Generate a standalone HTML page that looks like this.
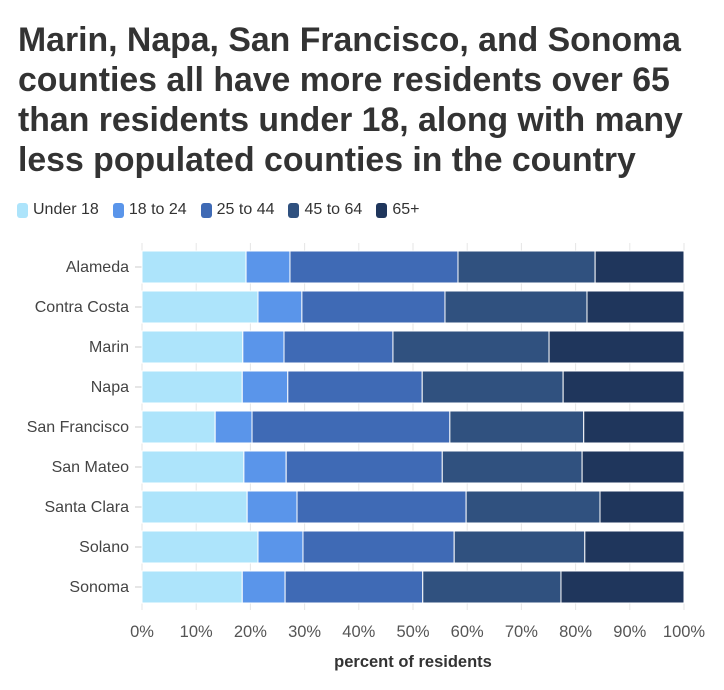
<!DOCTYPE html>
<html><head><meta charset="utf-8"><style>
body{margin:0;background:#fff;width:724px;height:690px;overflow:hidden;font-family:"Liberation Sans",sans-serif;}
h1{position:absolute;left:18px;top:20px;margin:0;font-size:33.8px;line-height:40px;font-weight:bold;color:#333;width:710px;letter-spacing:0px}
#legend{position:absolute;left:17px;top:201px;font-size:16px;color:#333;display:flex;gap:0}
.li{display:flex;align-items:center;margin-right:14px}
.sw{width:11px;height:15px;border-radius:3px;margin-right:5px}
</style></head><body>
<h1>Marin, Napa, San Francisco, and Sonoma counties all have more residents over 65 than residents under 18, along with many less populated counties in the country</h1>
<div id="legend"></div>
<svg id="chart" width="724" height="690" style="position:absolute;left:0;top:0"></svg>
<script>
const categories=["Alameda","Contra Costa","Marin","Napa","San Francisco","San Mateo","Santa Clara","Solano","Sonoma"];
const seriesNames=["Under 18","18 to 24","25 to 44","45 to 64","65+"];
const under18=[19.2,21.4,18.6,18.5,13.5,18.8,19.4,21.4,18.5];
const age18to24=[8.1,8.1,7.6,8.4,6.8,7.8,9.2,8.3,7.9];
const age25to44=[31.0,26.4,20.1,24.8,36.5,28.8,31.2,27.9,25.4];
const age45to64=[25.3,26.2,28.8,26.0,24.7,25.8,24.7,24.1,25.5];
const age65plus=[16.4,17.9,24.9,22.3,18.5,18.8,15.5,18.3,22.7];
const xTicks=[0,10,20,30,40,50,60,70,80,90,100];
const colors=["#ade4fb","#5a95ea","#3f6ab5","#30517f","#1f365c"];
const series=[under18,age18to24,age25to44,age45to64,age65plus];
const NS="http://www.w3.org/2000/svg";
const svg=document.getElementById('chart');
const x0=142,x1=684,yTop=251,step=40,bh=32;
const xs=v=>x0+(x1-x0)*v/100;
const ys=i=>yTop+i*step;
function mk(t,a){const e=document.createElementNS(NS,t);for(const k in a)e.setAttribute(k,a[k]);svg.appendChild(e);return e;}
const lg=document.getElementById('legend');
seriesNames.forEach((n,i)=>{const d=document.createElement('div');d.className='li';


d.innerHTML='<span class="sw" style="background:'+colors[i]+'"></span>'+n;lg.appendChild(d);});
xTicks.forEach(t=>{const g=mk('line',{x1:xs(t),x2:xs(t),y1:243,y2:610,stroke:'#e6e6e6'});


const tx=mk('text',{x:xs(t),y:637,'text-anchor':'middle','font-size':16.5,fill:'#555'});tx.textContent=t+'%';

});
categories.forEach((c,i)=>{const y=ys(i);
mk('line',{x1:135,x2:142,y1:y+bh/2,y2:y+bh/2,stroke:'#ccc'});
const t=mk('text',{x:129,y:y+bh/2+5,'text-anchor':'end','font-size':16,fill:'#444'});t.textContent=c;


let acc=0;series.forEach((s,j)=>{const r=mk('rect',{x:xs(acc),y:y,width:xs(acc+s[i])-xs(acc),height:bh,fill:colors[j],stroke:'#fff','stroke-width':1});


acc+=s[i];});});
const xt=mk('text',{x:413,y:667,'text-anchor':'middle','font-size':16.5,'font-weight':'bold',fill:'#333'});xt.textContent='percent of residents';


</script>
</body></html>
